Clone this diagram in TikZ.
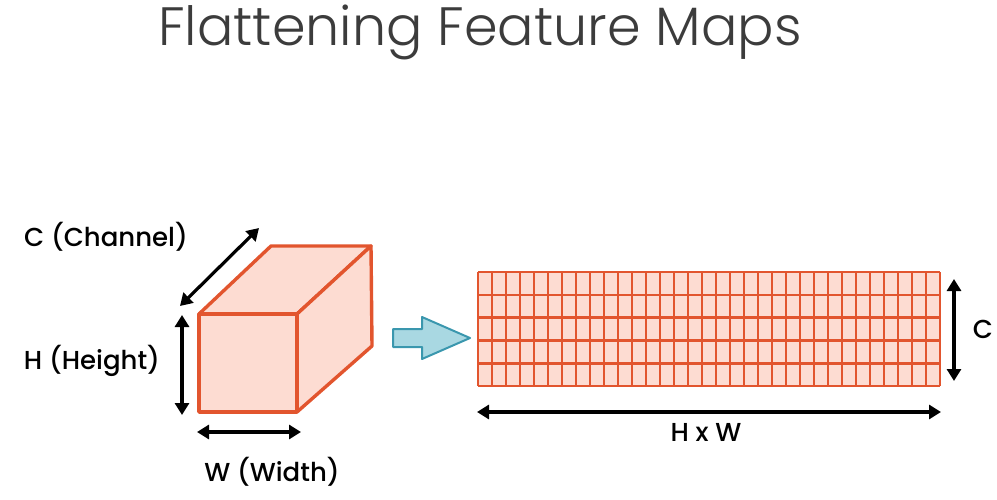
\documentclass[tikz,border=0pt]{standalone}
\usepackage{fontspec}
\setmainfont{Poppins}
\newfontfamily\medfont{Poppins}[UprightFont=* Medium]
\newfontfamily\lightfont{Poppins}[UprightFont=* Light]
\usetikzlibrary{arrows.meta}
\definecolor{boxfill}{HTML}{FDDCD2}
\definecolor{boxline}{HTML}{E2552E}
\definecolor{arrfill}{HTML}{A9D8E2}
\definecolor{arrline}{HTML}{3A97AE}
\definecolor{titlecol}{HTML}{3C3C3C}
\tikzset{
  dim/.style={line width=3.2pt,{Triangle[length=12pt,width=14pt]}-{Triangle[length=12pt,width=14pt]}},
  lbl/.style={font=\medfont\fontsize{26}{30}\selectfont, text=black},
  face/.style={fill=boxfill,draw=boxline,line width=3.4pt,line join=round},
  gline/.style={boxline,line width=2.6pt},
}
\begin{document}
\begin{tikzpicture}[x=1pt,y=-1pt]
\useasboundingbox (0,0) rectangle (997,500);
\node[font=\lightfont\fontsize{54}{60}\selectfont, text=titlecol] (title) at (480,32) {Flattening Feature Maps};
% cube
\coordinate (fa) at (199,314);
\coordinate (fb) at (297,314);
\coordinate (fc) at (297,412);
\coordinate (fd) at (199,412);
\coordinate (ba) at (271,246);
\coordinate (bb) at (371,246);
\coordinate (bc) at (372,346);
\draw[face] (fa) -- (ba) -- (bb) -- (fb) -- cycle;
\draw[face] (fb) -- (bb) -- (bc) -- (fc) -- cycle;
\draw[face] (fa) rectangle (fc);
% dimension arrows cube
\coordinate (c1) at (180,306);
\coordinate (c2) at (259,228);
\draw[dim] (c1) -- (c2);
\coordinate (h1) at (182,315);
\coordinate (h2) at (182,415);
\draw[dim] (h1) -- (h2);
\coordinate (w1) at (197,432);
\coordinate (w2) at (301,432);
\draw[dim] (w1) -- (w2);
\node[lbl] (lc) at (106,237) {C (Channel)};
\node[lbl] (lh) at (92,361) {H (Height)};
\node[lbl] (lw) at (272,472) {W (Width)};
% block arrow
\draw[fill=arrfill,draw=arrline,line width=2pt,line join=round]
  (393,329) -- (422,329) -- (422,317) -- (470,338) -- (422,359) -- (422,347) -- (393,347) -- cycle;
% grid
\fill[boxfill] (478,272) rectangle (940,386);
\foreach \i in {0,...,33} {
  \draw[gline] ({478+\i*14},272) -- ({478+\i*14},386);
}
\foreach \j in {0,...,5} {
  \draw[gline] (478,{272+\j*22.8}) -- (940,{272+\j*22.8});
}
\node[inner sep=0pt,minimum width=462pt,minimum height=114pt] (grid) at (709,329) {};
% grid arrows
\coordinate (g1) at (954,279);
\coordinate (g2) at (954,381);
\draw[dim] (g1) -- (g2);
\coordinate (g3) at (477,412);
\coordinate (g4) at (941,412);
\draw[dim] (g3) -- (g4);
\node[lbl] (lcc) at (983,329) {C};
\node[lbl] (lhw) at (706,432) {H x W};
\end{tikzpicture}
\end{document}
